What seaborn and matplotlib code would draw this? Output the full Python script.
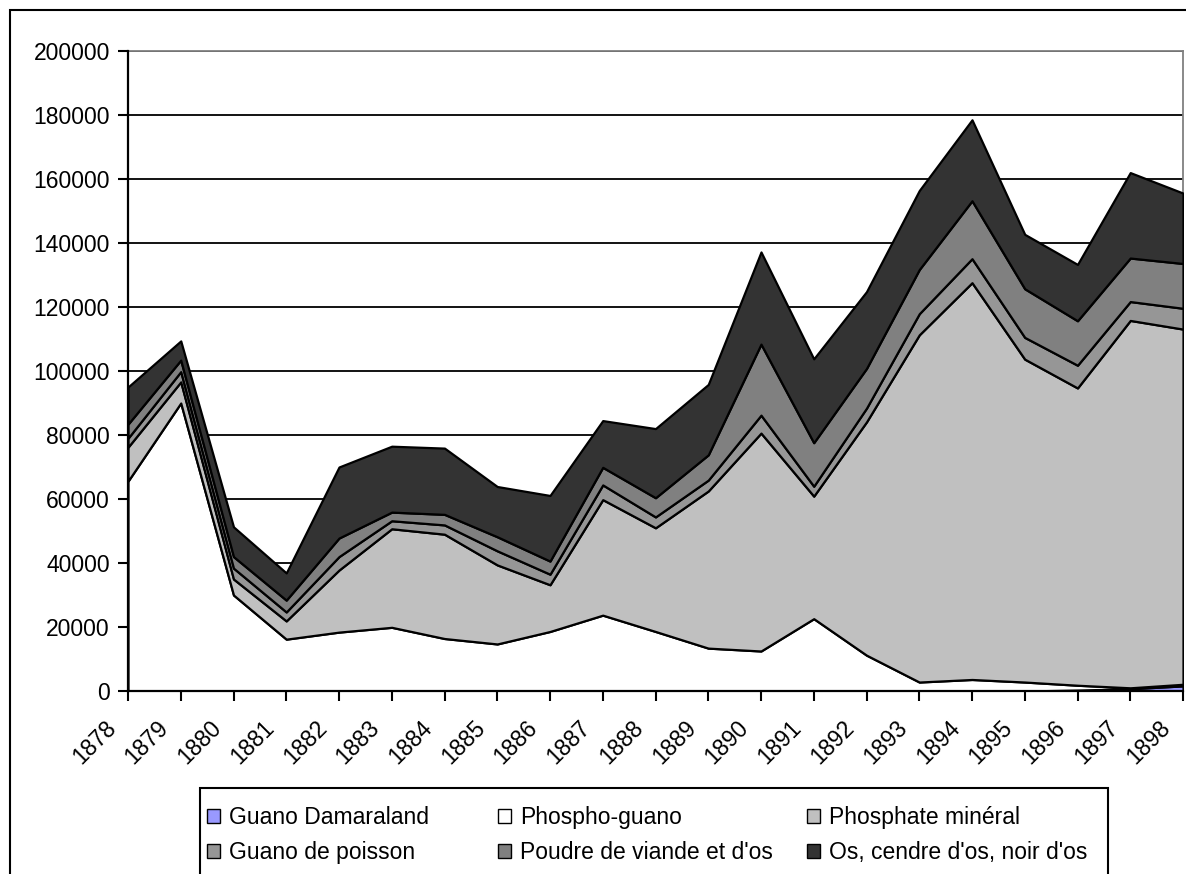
import matplotlib
matplotlib.use("Agg")
import matplotlib.pyplot as plt
import matplotlib.transforms as mtransforms
from matplotlib.patches import Patch, Rectangle
import seaborn as sns

# Imports d'engrais (tonnes), 1878-1898
years = list(range(1878, 1899))

guano_damaraland = [0, 0, 0, 0, 0, 0, 0, 0, 0, 0, 0, 0, 0, 0, 0, 0, 0, 0,
                    300, 700, 1600]
phospho_guano = [65600, 90000, 30000, 16200, 18400, 19900, 16400, 14700,
                 18600, 23700, 18600, 13400, 12500, 22600, 11200, 2800,
                 3600, 2800, 1500, 300, 500]
phosphate_mineral = [10600, 6600, 5000, 5700, 19400, 30800, 32600, 24700,
                     14600, 36100, 32400, 49100, 68100, 38300, 72900, 108500,
                     124000, 100900, 92900, 114800, 111000]
guano_poisson = [2800, 3200, 3400, 2800, 4200, 2500, 2900, 4400, 3300, 4600,
                 3400, 3400, 5600, 3100, 4300, 6600, 7500, 6800, 7100, 5900,
                 6500]
poudre_viande = [4400, 3600, 3600, 3700, 5800, 2700, 3300, 4400, 4100, 5500,
                 6000, 7900, 22200, 13600, 12400, 13800, 18100, 15200, 13900,
                 13600, 14000]
os_noir = [11600, 6000, 9300, 8500, 22200, 20600, 20700, 15700, 20500, 14600,
           21600, 22000, 28800, 26200, 24000, 24700, 25300, 17000, 17600,
           26700, 22000]

series = [guano_damaraland, phospho_guano, phosphate_mineral,
          guano_poisson, poudre_viande, os_noir]
labels = ["Guano Damaraland", "Phospho-guano", "Phosphate minéral",
          "Guano de poisson", "Poudre de viande et d'os",
          "Os, cendre d'os, noir d'os"]
colors = ["#9999ff", "#ffffff", "#c0c0c0", "#969696", "#808080", "#333333"]

y_ticks = list(range(0, 200001, 20000))

sns.set_theme(style="white")
plt.rcParams["font.family"] = ["Liberation Sans", "DejaVu Sans"]
plt.rcParams["text.color"] = "black"
FS = 16.5

W, H = 1186, 874
fig = plt.figure(figsize=(W / 100, H / 100), dpi=100)
fig.patch.set_facecolor("white")

# outer chart border (cut off at right and bottom like the original)
fig.patches.append(Rectangle((10 / W, -0.05), 1.2, 1 - 10 / H + 0.05,
                             transform=fig.transFigure, fill=False,
                             edgecolor="black", linewidth=1.5))

ax = fig.add_axes([128 / W, 1 - 691 / H, (1183 - 128) / W, (691 - 51) / H])
ax.set_facecolor("white")

ax.stackplot(years, *series, colors=colors, labels=labels,
             edgecolor="black", linewidth=1.6, zorder=3)

ax.set_xlim(years[0], years[-1])
ax.set_ylim(0, 200000)
ax.set_yticks(y_ticks)
ax.set_yticklabels([str(v) for v in y_ticks], fontsize=FS)
ax.set_xticks(years)
ax.set_xticklabels([])

# rotated year labels, shifted to sit left of each tick like the original
offset = mtransforms.ScaledTranslation(-0.24, -0.25, fig.dpi_scale_trans)
label_tr = ax.get_xaxis_transform() + offset
for y in years:
    ax.text(y, 0, str(y), transform=label_tr, rotation=45, ha="right",
            va="top", rotation_mode="anchor", fontsize=FS, color="black",
            clip_on=False)

ax.yaxis.grid(True, color="black", linewidth=1.3, zorder=1)
ax.set_axisbelow(True)
ax.tick_params(axis="both", direction="out", length=7, width=1.5,
               color="black", labelcolor="black")
ax.tick_params(axis="y", pad=6, left=True)
ax.tick_params(axis="x", bottom=True)

for side in ["left", "bottom"]:
    ax.spines[side].set_color("black")
    ax.spines[side].set_linewidth(1.6)
    ax.spines[side].set_zorder(5)
for side in ["top", "right"]:
    ax.spines[side].set_color("#808080")
    ax.spines[side].set_linewidth(1.3)

# legend box with three fixed columns, as in the spreadsheet chart
fig.patches.append(Rectangle((200 / W, -0.05), (1108 - 200) / W,
                             (H - 788) / H + 0.05,
                             transform=fig.transFigure, fill=False,
                             edgecolor="black", linewidth=1.5))
col_x = [207, 498, 807]
for i, x in enumerate(col_x):
    idx = [i, i + 3]
    handles = [Patch(facecolor=colors[j], edgecolor="black", linewidth=1)
               for j in idx]
    fig.legend(handles, [labels[j] for j in idx], loc="center left",
               bbox_to_anchor=(x / W, 1 - 835 / H), frameon=False,
               fontsize=FS, borderpad=0, borderaxespad=0,
               handlelength=0.55, handleheight=0.55, handletextpad=0.4,
               labelspacing=0.5, labelcolor="black")

fig.savefig("out.png", dpi=100, facecolor="white")
